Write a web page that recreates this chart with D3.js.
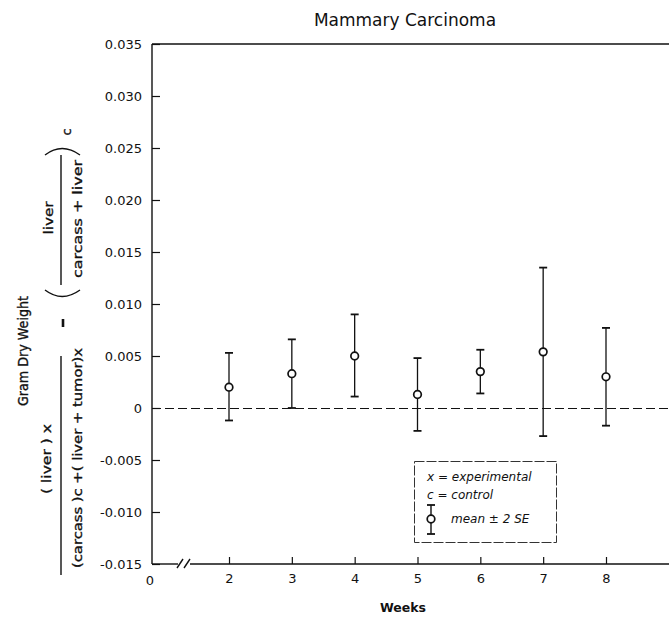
<!DOCTYPE html>
<html>
<head>
<meta charset="utf-8">
<script src="https://cdn.jsdelivr.net/npm/d3@7"></script>
<style>
  body { margin: 0; background: #fff; }
  svg { display: block; font-family: "DejaVu Sans", sans-serif; }
</style>
</head>
<body>
<svg id="chart" width="669" height="619"></svg>
<script>
// values
var weeks = [2, 3, 4, 5, 6, 7, 8];
var means = [0.0020, 0.0033, 0.0050, 0.0013, 0.0035, 0.0054, 0.0030];
var upper = [0.0053, 0.0066, 0.0090, 0.0048, 0.0056, 0.0135, 0.0077];
var lower = [-0.0012, 0.0000, 0.0011, -0.0022, 0.0014, -0.0027, -0.0017];
var yTicks = [-0.015, -0.010, -0.005, 0, 0.005, 0.010, 0.015, 0.020, 0.025, 0.030, 0.035];
var legendLines = ['x = experimental', 'c = control'];

// plot frame edges (note: "top" is reserved on window, so prefixed)
var plotLeft = 152, plotRight = 669, plotTop = 44, plotBottom = 564;

var svg = d3.select('#chart');

var x = d3.scaleLinear().domain([2, 8]).range([229, 606]);
var y = d3.scaleLinear().domain([-0.015, 0.035]).range([plotBottom, plotTop]);

var points = weeks.map(function(w, i){
    return {week: w, mean: means[i], hi: upper[i], lo: lower[i]};
});

// title
svg.append('text')
   .attr('x', 405).attr('y', 26)
   .attr('text-anchor', 'middle')
   .style('font-size', '17px')
   .attr('fill', '#111')
   .text('Mammary Carcinoma');

// y axis ticks + labels
var yAxis = d3.axisLeft(y)
              .tickValues(yTicks)
              .tickSizeInner(-8)
              .tickSizeOuter(0)
              .tickPadding(10)
              .tickFormat(function(d){ return d === 0 ? '0' : d.toFixed(3); });

var gy = svg.append('g')
            .attr('transform', 'translate(' + plotLeft + ',0)')
            .call(yAxis);
gy.select('.domain').remove();
gy.selectAll('line').attr('stroke', '#111').attr('stroke-width', 1.2);
gy.selectAll('text')
  .style('font-size', '13px')
  .style('font-family', '"DejaVu Sans", sans-serif')
  .attr('fill', '#111');

// x axis ticks + labels
var xAxis = d3.axisBottom(x)
              .tickValues(weeks)
              .tickSizeInner(-7)
              .tickSizeOuter(0)
              .tickPadding(10)
              .tickFormat(d3.format('d'));

var gx = svg.append('g')
            .attr('transform', 'translate(0,' + plotBottom + ')')
            .call(xAxis);
gx.select('.domain').remove();
gx.selectAll('line').attr('stroke', '#111').attr('stroke-width', 1.2);
gx.selectAll('text')
  .style('font-size', '13px')
  .style('font-family', '"DejaVu Sans", sans-serif')
  .attr('fill', '#111');

svg.append('text')
   .attr('x', 150).attr('y', 585)
   .attr('text-anchor', 'middle')
   .style('font-size', '13px')
   .attr('fill', '#111')
   .text('0');

// frame (left, top, bottom with break)
var frame = svg.append('g').attr('stroke', '#111').attr('stroke-width', 1.4).attr('fill', 'none');
frame.append('line').attr('x1', plotLeft).attr('x2', plotLeft).attr('y1', plotTop).attr('y2', plotBottom);
frame.append('line').attr('x1', plotLeft).attr('x2', plotRight).attr('y1', plotTop).attr('y2', plotTop);
frame.append('line').attr('x1', plotLeft).attr('x2', 178).attr('y1', plotBottom).attr('y2', plotBottom);
frame.append('line').attr('x1', 190).attr('x2', plotRight).attr('y1', plotBottom).attr('y2', plotBottom);
frame.append('line').attr('x1', 177).attr('x2', 183).attr('y1', 568).attr('y2', 559);
frame.append('line').attr('x1', 184).attr('x2', 190).attr('y1', 568).attr('y2', 559);

// zero line
svg.append('line')
   .attr('x1', plotLeft).attr('x2', plotRight)
   .attr('y1', Math.round(y(0)) + 0.5).attr('y2', Math.round(y(0)) + 0.5)
   .attr('stroke', '#111')
   .attr('stroke-width', 1.1)
   .attr('stroke-dasharray', '9,4');

// error bars
var bars = svg.append('g').attr('stroke', '#111').attr('stroke-width', 1.3);

bars.selectAll('line.stem')
    .data(points)
    .enter()
    .append('line')
    .attr('x1', function(d){ return x(d.week); })
    .attr('x2', function(d){ return x(d.week); })
    .attr('y1', function(d){ return y(d.hi); })
    .attr('y2', function(d){ return y(d.lo); });

bars.selectAll('line.capHi')
    .data(points)
    .enter()
    .append('line')
    .attr('x1', function(d){ return x(d.week) - 4; })
    .attr('x2', function(d){ return x(d.week) + 4; })
    .attr('y1', function(d){ return y(d.hi); })
    .attr('y2', function(d){ return y(d.hi); })
    .attr('stroke-width', 1.8);

bars.selectAll('line.capLo')
    .data(points)
    .enter()
    .append('line')
    .attr('x1', function(d){ return x(d.week) - 4; })
    .attr('x2', function(d){ return x(d.week) + 4; })
    .attr('y1', function(d){ return y(d.lo); })
    .attr('y2', function(d){ return y(d.lo); })
    .attr('stroke-width', 1.8);

svg.selectAll('circle.mean')
   .data(points)
   .enter()
   .append('circle')
   .attr('cx', function(d){ return x(d.week); })
   .attr('cy', function(d){ return y(d.mean); })
   .attr('r', 3.8)
   .attr('fill', '#fff')
   .attr('stroke', '#111')
   .attr('stroke-width', 1.7);

// legend
var lg = svg.append('g');
lg.append('rect')
  .attr('x', 414.5).attr('y', 461.5)
  .attr('width', 142).attr('height', 81)
  .attr('fill', 'none')
  .attr('stroke', '#333')
  .attr('stroke-width', 1)
  .attr('stroke-dasharray', '10,2');

lg.selectAll('text.lab')
  .data(legendLines)
  .enter()
  .append('text')
  .attr('x', 427)
  .attr('y', function(d, i){ return 481 + i*18; })
  .style('font-size', '12px')
  .style('font-style', 'italic')
  .attr('fill', '#111')
  .text(function(d){ return d; });

lg.append('text')
  .attr('x', 451).attr('y', 523)
  .style('font-size', '12px')
  .style('font-style', 'italic')
  .attr('fill', '#111')
  .text('mean  \u00b1  2 SE');

var lsym = lg.append('g').attr('stroke', '#111').attr('stroke-width', 1.4);
lsym.append('line').attr('x1', 431).attr('x2', 431).attr('y1', 505).attr('y2', 534);
lsym.append('line').attr('x1', 427).attr('x2', 435).attr('y1', 505).attr('y2', 505).attr('stroke-width', 1.8);
lsym.append('line').attr('x1', 427).attr('x2', 435).attr('y1', 534).attr('y2', 534).attr('stroke-width', 1.8);
lsym.append('circle').attr('cx', 431).attr('cy', 519).attr('r', 3.8).attr('fill', '#fff').attr('stroke-width', 1.7);

// x axis title
svg.append('text')
   .attr('x', 403).attr('y', 612)
   .attr('text-anchor', 'middle')
   .style('font-size', '12.5px')
   .style('font-weight', 'bold')
   .attr('fill', '#111')
   .text('Weeks');

// y axis title with formula (rotated)
function vtext(cx, cy, str, size, len){
    var t = svg.append('text')
       .attr('transform', 'translate(' + cx + ',' + cy + ') rotate(-90)')
       .attr('text-anchor', 'middle')
       .attr('dominant-baseline', 'central')
       .style('font-size', size + 'px')
       .attr('fill', '#111')
       .attr('stroke', '#111')
       .attr('stroke-width', 0.35)
       .text(str);
    if (len) t.attr('textLength', len).attr('lengthAdjust', 'spacingAndGlyphs');
}

vtext(23, 351, 'Gram Dry Weight', 14, 110);
vtext(46, 459, '( liver ) x', 13, 70);
vtext(77, 458, '(carcass )c +( liver + tumor)x', 13, 220);
vtext(48, 218, 'liver', 13, 33);
vtext(77, 219, 'carcass + liver', 13, 118);
vtext(66, 132, 'c', 13);

var fr = svg.append('g').attr('stroke', '#111').attr('fill', 'none').attr('stroke-width', 1.4);
fr.append('line').attr('x1', 61).attr('x2', 61).attr('y1', 356).attr('y2', 575);
fr.append('line').attr('x1', 61).attr('x2', 61).attr('y1', 155).attr('y2', 285);
fr.append('line').attr('x1', 63).attr('x2', 63).attr('y1', 319).attr('y2', 327).attr('stroke-width', 2.6);
fr.append('path').attr('d', 'M45,290 Q62,303 80,290');
fr.append('path').attr('d', 'M45,155 Q62,142 80,155');
</script>
</body>
</html>
